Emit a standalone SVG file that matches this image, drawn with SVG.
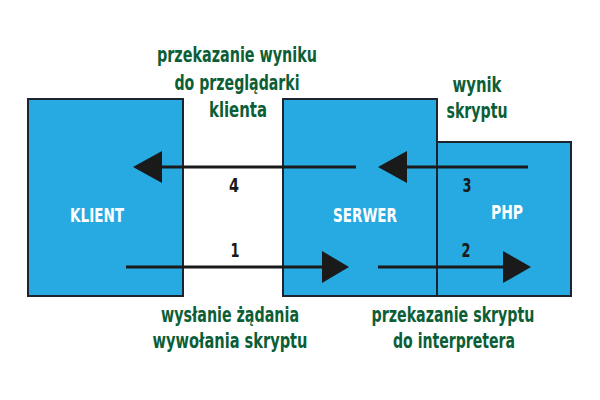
<svg xmlns="http://www.w3.org/2000/svg" width="600" height="400" viewBox="0 0 600 400">
<defs>
<style>
.box{fill:#27a9e1;stroke:#1c2430;stroke-width:2}
.lbl{font-family:"DejaVu Sans Condensed","DejaVu Sans",sans-serif;font-weight:bold;text-anchor:middle}
.g{fill:#0b5e36;font-size:21px}
.w{fill:#ffffff;font-size:19px}
.n{fill:#1a1a1a;font-size:19px}
.line{stroke:#1a1a1a;stroke-width:3;fill:none}
.head{fill:#1a1a1a}
</style>
</defs>
<rect width="600" height="400" fill="#ffffff"/>
<g id="klient"><rect class="box" x="28" y="99" width="155" height="197"/><text class="lbl w" x="97" y="222" textLength="54" lengthAdjust="spacingAndGlyphs">KLIENT</text></g>
<g id="serwer"><rect class="box" x="283" y="99" width="154" height="197"/><text class="lbl w" x="365" y="222" textLength="64" lengthAdjust="spacingAndGlyphs">SERWER</text></g>
<g id="php"><rect class="box" x="437" y="142" width="134" height="154"/><text class="lbl w" x="507" y="219" textLength="32" lengthAdjust="spacingAndGlyphs">PHP</text></g>
<g id="connectors">
<line class="line" x1="356" y1="167" x2="160" y2="167"/><polygon class="head" points="133,167 162,151 162,183"/>
<line class="line" x1="528" y1="167" x2="405" y2="167"/><polygon class="head" points="378,167 407,151 407,183"/>
<line class="line" x1="126" y1="267" x2="324" y2="267"/><polygon class="head" points="349,267 322,251 322,283"/>
<line class="line" x1="378" y1="267" x2="505" y2="267"/><polygon class="head" points="531,267 503,251 503,283"/>
<text class="lbl n" x="234" y="192" textLength="10" lengthAdjust="spacingAndGlyphs">4</text>
<text class="lbl n" x="235" y="257" textLength="9" lengthAdjust="spacingAndGlyphs">1</text>
<text class="lbl n" x="467" y="192" textLength="9" lengthAdjust="spacingAndGlyphs">3</text>
<text class="lbl n" x="466" y="257" textLength="9" lengthAdjust="spacingAndGlyphs">2</text>
</g>
<g id="labels">
<text class="lbl g" x="237" y="62" textLength="160" lengthAdjust="spacingAndGlyphs">przekazanie wyniku</text>
<text class="lbl g" x="237" y="90" textLength="125" lengthAdjust="spacingAndGlyphs">do przeglądarki</text>
<text class="lbl g" x="238" y="117" textLength="58" lengthAdjust="spacingAndGlyphs">klienta</text>
<text class="lbl g" x="477" y="92" textLength="49" lengthAdjust="spacingAndGlyphs">wynik</text>
<text class="lbl g" x="477" y="118" textLength="61" lengthAdjust="spacingAndGlyphs">skryptu</text>
<text class="lbl g" x="230" y="322" textLength="138" lengthAdjust="spacingAndGlyphs">wysłanie żądania</text>
<text class="lbl g" x="230" y="348" textLength="155" lengthAdjust="spacingAndGlyphs">wywołania skryptu</text>
<text class="lbl g" x="453" y="322" textLength="163" lengthAdjust="spacingAndGlyphs">przekazanie skryptu</text>
<text class="lbl g" x="454" y="348" textLength="122" lengthAdjust="spacingAndGlyphs">do interpretera</text>
</g>
</svg>
